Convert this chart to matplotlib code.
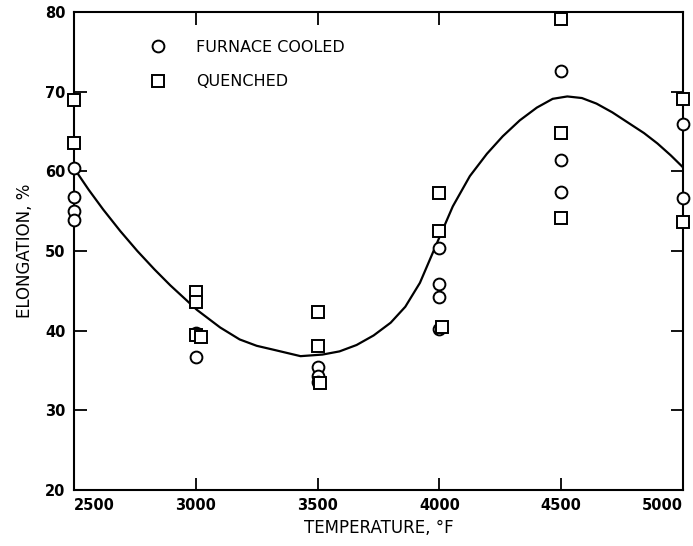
import matplotlib.pyplot as plt

# furnace cooled specimens (circles)
fc_temp = [2500, 2500, 2500, 2500, 3000, 3000, 3500, 3500, 3500, 4000, 4000, 4000, 4000,
           4500, 4500, 4500, 5000, 5000]
fc_elong = [60.4, 56.8, 55.0, 53.9, 39.7, 36.7, 35.5, 34.3, 33.5, 50.4, 45.8, 44.2, 40.2,
            72.6, 61.4, 57.4, 66.0, 56.7]

# quenched specimens (squares)
q_temp = [2500, 2500, 3000, 3000, 3000, 3020, 3500, 3500, 3510, 4000, 4000, 4010,
          4500, 4500, 4500, 5000, 5000]
q_elong = [68.9, 63.6, 44.8, 43.6, 39.5, 39.2, 42.4, 38.1, 33.4, 57.3, 52.5, 40.5,
           79.1, 64.8, 54.2, 69.1, 53.6]

# faired curve
curve_temp = [2500, 2560, 2620, 2690, 2760, 2830, 2895, 3005, 3100, 3180, 3250, 3320,
              3430, 3520, 3590, 3660, 3730, 3800, 3860, 3920, 3990, 4055, 4125, 4195,
              4260, 4330, 4400, 4465, 4525, 4585, 4645, 4710, 4780, 4840, 4895, 4950, 5000]
curve_elong = [60.4, 57.7, 55.2, 52.5, 50.0, 47.7, 45.7, 42.6, 40.4, 38.9, 38.1, 37.6,
               36.8, 37.0, 37.4, 38.2, 39.4, 41.0, 43.0, 46.0, 51.0, 55.6, 59.4, 62.2,
               64.4, 66.4, 68.0, 69.1, 69.4, 69.2, 68.5, 67.4, 66.0, 64.8, 63.5, 62.0, 60.5]

x_ticks = [2500, 3000, 3500, 4000, 4500, 5000]
y_ticks = [20, 30, 40, 50, 60, 70, 80]

plt.rcParams["font.family"] = "DejaVu Sans"
fig = plt.figure(figsize=(6.93, 5.46), dpi=100)
ax = fig.add_axes([74 / 693, 1 - 490 / 546, 609 / 693, 478 / 546])

ax.plot(curve_temp, curve_elong, color="black", lw=1.6, zorder=2)
ax.plot(fc_temp, fc_elong, "o", mfc="white", mec="black", mew=1.4, ms=8.5,
        label="FURNACE COOLED", clip_on=False, zorder=3)
ax.plot(q_temp, q_elong, "s", mfc="white", mec="black", mew=1.4, ms=8.5,
        label="QUENCHED", clip_on=False, zorder=3)

ax.set_xlim(2500, 5000)
ax.set_ylim(20, 80)
ax.set_xticks(x_ticks)
ax.set_yticks(y_ticks)
ax.set_xticklabels([str(t) for t in x_ticks], fontsize=10.5, fontweight="bold")
ax.set_yticklabels([str(t) for t in y_ticks], fontsize=10.5, fontweight="bold")
labels = ax.get_xticklabels()
labels[0].set_ha("left")
labels[-1].set_ha("right")
ax.tick_params(direction="in", length=9, width=1.3, top=True, right=True, pad=6)

for s in ax.spines.values():
    s.set_linewidth(1.5)

ax.set_xlabel("TEMPERATURE, °F", fontsize=12, labelpad=4)
ax.set_ylabel("ELONGATION, %", fontsize=12, labelpad=8)

ax.legend(loc="upper left", bbox_to_anchor=(140 / 693, 1 - 32 / 546),
          bbox_transform=fig.transFigure, frameon=False, fontsize=11.5,
          handlelength=1.2, handletextpad=1.8, labelspacing=1.2, borderpad=0)

plt.savefig("out.png", dpi=100)
